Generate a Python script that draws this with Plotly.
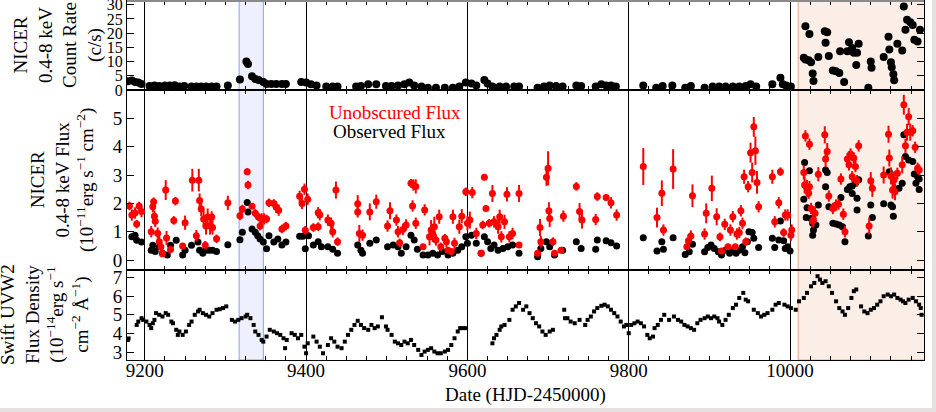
import plotly.graph_objects as go

# ---------------- DATA ----------------
# NICER 0.4-8 keV count rate (c/s)
rate_dates = [9179, 9184, 9188, 9192, 9196, 9206, 9212, 9218, 9225, 9231, 9237, 9243, 9249, 9258, 9264,
              9270, 9276, 9283, 9289, 9303, 9318, 9326, 9328, 9333, 9337, 9341, 9347, 9351, 9357, 9363,
              9370, 9375, 9394, 9400, 9406, 9413, 9425, 9433, 9439, 9462, 9468, 9477, 9487, 9499, 9506,
              9514, 9522, 9528, 9534, 9543, 9551, 9561, 9572, 9582, 9590, 9598, 9605, 9611, 9621, 9625,
              9631, 9640, 9648, 9658, 9664, 9687, 9695, 9702, 9710, 9718, 9735, 9741, 9759, 9766, 9772,
              9778, 9784, 9818, 9834, 9842, 9854, 9870, 9877, 9894, 9904, 9912, 9920, 9929, 9937, 9945,
              9951, 9958, 9978, 9988, 9991, 9995, 10001,
              10019, 10024, 10017, 10019, 10023, 10026, 10028, 10029, 10035, 10044, 10046, 10043, 10048,
              10053, 10057, 10061, 10067, 10062, 10071, 10073, 10077, 10079, 10083, 10085, 10082, 10097,
              10100, 10101, 10116, 10122, 10123, 10125, 10126, 10128, 10129, 10133, 10139, 10141, 10143,
              10145, 10149, 10152, 10154, 10158, 10161]
rate_vals = [3.1, 3.3, 2.8, 2.6, 2.1, 1.4, 1.6, 1.4, 1.6, 1.6, 1.7, 1.2, 1.4, 1.2, 1.2,
             1.2, 1.2, 1.2, 1.2, 1.6, 3.7, 10.0, 9.1, 4.8, 3.9, 3.5, 2.8, 2.1, 2.1, 2.1,
             2.1, 2.1, 2.8, 2.6, 2.0, 1.6, 1.2, 1.2, 1.2, 1.2, 1.4, 2.0, 2.0, 1.4, 1.4,
             1.6, 2.0, 2.6, 1.6, 1.2, 0.8, 0.8, 0.8, 0.8, 1.2, 2.6, 2.3, 1.6, 3.5, 2.3,
             1.2, 1.2, 1.2, 1.2, 1.2, 0.8, 1.2, 1.6, 1.4, 1.2, 1.6, 1.4, 1.2, 2.0, 1.6,
             1.6, 1.2, 1.6, 0.8, 1.4, 1.6, 0.8, 1.4, 0.8, 1.2, 1.2, 1.2, 1.2, 1.2, 1.4,
             2.0, 1.2, 2.0, 4.3, 2.0, 1.6, 1.2,
             22.4, 19.7, 11.3, 10.7, 10.5, 9.8, 5.8, 3.2, 11.6, 16.6, 20.3, 20.7, 12.0,
             6.9, 6.6, 6.0, 2.8, 13.6, 13.6, 16.8, 14.8, 13.1, 13.1, 16.3, 8.8, 0.8,
             10.0, 7.8, 11.6, 18.7, 14.2, 9.8, 8.0, 5.5, 3.4, 16.3, 13.9, 29.4, 21.2,
             24.7, 23.8, 22.9, 17.7, 17.1, 21.2]

# NICER 0.4-8 keV observed flux (1e-11 erg/s/cm2)
obs_dates = [9184, 9188, 9190, 9196, 9208, 9210, 9213, 9218, 9222, 9228, 9232, 9239, 9247, 9250, 9258,
             9266, 9268, 9272, 9276, 9280, 9284, 9289, 9303, 9318, 9321, 9327, 9328, 9333, 9337, 9340,
             9343, 9347, 9351, 9354, 9360, 9365, 9370, 9375, 9392, 9396, 9399, 9403, 9409, 9415, 9419,
             9427, 9433, 9439, 9464, 9468, 9470, 9479, 9487, 9501, 9508, 9514, 9518, 9524, 9530, 9534,
             9538, 9545, 9551, 9557, 9563, 9569, 9576, 9582, 9588, 9593, 9598, 9600, 9605, 9611, 9617,
             9621, 9625, 9629, 9633, 9638, 9644, 9650, 9656, 9664, 9687, 9691, 9698, 9702, 9708, 9718,
             9735, 9741, 9759, 9761, 9772, 9778, 9785, 9818, 9835, 9841, 9843, 9855, 9870, 9875, 9879,
             9894, 9898, 9902, 9906, 9911, 9915, 9920, 9925, 9929, 9933, 9937, 9941, 9944, 9947, 9949,
             9953, 9955, 9961, 9978, 9981, 9986, 9988, 9992, 9994, 9997, 10000,
             10018, 10024, 10017, 10021, 10020, 10026, 10028, 10029, 10032, 10035, 10028, 10044, 10046,
             10044, 10048, 10053, 10057, 10061, 10065, 10068, 10063, 10071, 10074, 10077, 10081, 10085,
             10077, 10083, 10083, 10097, 10100, 10102, 10116, 10123, 10125, 10127, 10128, 10131, 10135,
             10139, 10141, 10143, 10147, 10152, 10154, 10156, 10158, 10160, 10160]
obs_flux = [0.82, 0.88, 0.7, 0.64, 0.35, 0.52, 0.3, 0.47, 0.24, 0.18, 0.52, 0.7, 0.18, 0.35, 0.52,
            0.64, 0.35, 0.24, 0.35, 0.35, 0.35, 0.3, 0.54, 0.72, 0.98, 2.03, 1.7, 1.1, 0.98, 0.86,
            0.74, 0.64, 0.4, 0.86, 0.64, 0.74, 0.53, 0.64, 0.84, 0.84, 0.4, 0.86, 0.53, 0.65, 0.47,
            0.47, 0.38, 0.24, 0.53, 0.35, 0.24, 0.59, 0.71, 0.47, 0.53, 0.47, 0.24, 0.47, 0.88, 0.71,
            0.38, 0.18, 0.18, 0.24, 0.18, 0.3, 0.18, 0.24, 0.35, 0.47, 0.82, 0.59, 0.88, 0.59, 0.24,
            0.82, 0.65, 0.41, 0.53, 0.35, 0.41, 0.47, 0.53, 0.24, 0.12, 0.41, 0.65, 0.47, 0.18, 0.35,
            0.65, 0.41, 0.38, 0.71, 0.68, 0.61, 0.5, 0.79, 0.32, 0.65, 0.38, 0.79, 0.2, 0.29, 0.56,
            0.29, 0.44, 0.53, 0.41, 0.29, 0.18, 0.35, 0.24, 0.35, 0.24, 0.35, 0.47, 0.26, 0.65, 1.0,
            0.97, 0.77, 0.44, 0.77, 0.44, 0.71, 1.38, 0.68, 0.41, 0.47, 0.32,
            3.44, 3.15, 2.15, 1.85, 1.5, 1.47, 1.3, 1.06, 1.24, 1.94, 0.88, 3.18, 3.09,
            2.59, 1.88, 1.3, 1.27, 1.24, 1.18, 0.65, 2.21, 2.49, 2.59, 2.61, 2.71, 2.83,
            2.35, 2.18, 1.77, 0.85, 1.94, 1.5, 1.99, 3.12, 1.94, 1.88, 1.55, 2.51, 2.53,
            2.71, 4.42, 3.65, 3.53, 3.48, 3.04, 2.71, 2.94, 2.49, 2.86]

# NICER 0.4-8 keV unobscured flux (1e-11 erg/s/cm2) and its error
unobs_dates = [9181, 9184, 9188, 9190, 9193, 9196, 9208, 9210, 9211, 9212, 9213, 9216, 9218, 9220, 9222,
               9226, 9227, 9232, 9236, 9238, 9247, 9250, 9259, 9264, 9267, 9268, 9270, 9273, 9275, 9276,
               9278, 9281, 9283, 9284, 9289, 9303, 9318, 9321, 9327, 9328, 9333, 9337, 9341, 9343, 9345,
               9348, 9351, 9354, 9360, 9363, 9366, 9370, 9375, 9392, 9395, 9398, 9402, 9399, 9409, 9415,
               9415, 9417, 9427, 9431, 9433, 9437, 9439, 9464, 9464, 9466, 9470, 9479, 9487, 9501, 9504,
               9512, 9514, 9516, 9520, 9524, 9530, 9533, 9536, 9532, 9536, 9547, 9545, 9553, 9555, 9557,
               9559, 9561, 9565, 9567, 9572, 9574, 9576, 9580, 9582, 9584, 9590, 9593, 9598, 9600, 9603,
               9606, 9611, 9617, 9619, 9621, 9623, 9627, 9631, 9633, 9638, 9640, 9642, 9646, 9649, 9652,
               9656, 9664, 9664, 9687, 9690, 9691, 9698, 9700, 9701, 9702, 9706, 9708, 9716, 9719, 9735,
               9739, 9742, 9759, 9761, 9772, 9778, 9785, 9818, 9835, 9841, 9843, 9855, 9872, 9874, 9877,
               9879, 9894, 9896, 9903, 9909, 9913, 9915, 9919, 9923, 9926, 9929, 9932, 9934, 9937, 9939,
               9941, 9943, 9945, 9948, 9951, 9953, 9955, 9957, 9959, 9961, 9978, 9981, 9986, 9988, 9992,
               9994, 9997, 10001, 10002,
               10017, 10019, 10018, 10021, 10024, 10024, 10023, 10026, 10029, 10031, 10028, 10035, 10043,
               10044, 10046, 10048, 10053, 10057, 10060, 10063, 10066, 10068, 10071, 10073, 10075, 10077,
               10079, 10081, 10083, 10085, 10098, 10100, 10102, 10116, 10122, 10123, 10125, 10127, 10129,
               10130, 10133, 10139, 10141, 10143, 10145, 10147, 10149, 10152, 10155, 10158, 10160]
unobs_flux = [1.91, 1.59, 1.66, 1.27, 1.91, 1.71, 1.0, 1.88, 2.06, 1.55, 1.37, 0.95, 0.65, 0.47, 0.22,
              2.47, 0.78, 0.37, 1.4, 2.08, 0.5, 1.32, 2.82, 0.86, 2.82, 2.1, 1.8, 1.45, 0.52, 1.2,
              1.52, 1.2, 1.52, 1.15, 0.75, 2.02, 1.56, 1.8, 3.12, 2.65, 1.9, 1.65, 1.52, 1.2, 1.45,
              1.45, 1.45, 2.02, 2.0, 1.86, 1.76, 1.1, 1.2, 2.25, 2.0, 2.5, 2.15, 1.05, 1.15, 1.18,
              1.67, 1.6, 1.41, 1.3, 1.0, 2.47, 0.65, 1.99, 1.7, 0.94, 0.88, 1.7, 2.06, 1.2, 1.74,
              1.41, 1.0, 0.61, 1.08, 1.24, 2.71, 2.65, 2.6, 1.91, 1.3, 1.77, 0.47, 0.82, 1.06, 0.94,
              1.18, 0.71, 1.53, 0.47, 0.77, 0.65, 0.35, 0.3, 1.53, 0.59, 1.18, 1.55, 2.41, 1.3, 1.41,
              2.38, 0.94, 0.24, 1.24, 2.92, 1.82, 1.3, 2.35, 1.35, 1.18, 1.53, 0.82, 1.35, 2.32, 0.82,
              0.94, 0.53, 2.35, 0.24, 1.15, 0.65, 2.92, 3.24, 1.74, 1.47, 0.65, 0.24, 0.35, 1.55, 2.6,
              1.71, 1.41, 1.43, 2.24, 2.21, 2.02, 1.59, 3.3, 1.5, 2.36, 1.06, 3.21, 0.47, 0.68, 0.85,
              2.27, 0.92, 1.65, 2.53, 1.53, 0.82, 0.32, 1.26, 0.47, 1.06, 1.53, 0.47, 0.92, 0.97, 1.74,
              1.3, 2.94, 0.65, 2.59, 3.79, 3.09, 4.7, 3.86, 2.74, 1.88, 2.94, 1.35, 2.02, 3.12, 0.97,
              1.59, 1.59, 0.88, 1.06,
              3.09, 4.38, 2.65, 2.53, 4.09, 2.59, 2.36, 1.82, 1.41, 1.65, 1.38, 3.03, 4.42,
              3.57, 3.83, 2.26, 1.82, 1.94, 1.97, 2.86, 1.62, 1.0, 3.57, 3.36, 3.74, 2.94,
              3.6, 3.3, 2.8, 4.03, 1.2, 2.8, 2.53, 3.0, 4.44, 3.6, 2.97, 2.47, 2.83,
              2.41, 3.06, 3.36, 5.48, 4.03, 4.51, 5.06, 4.51, 4.56, 3.98, 3.24, 3.18]
unobs_err = [0.15, 0.2, 0.2, 0.15, 0.15, 0.2, 0.2, 0.2, 0.15, 0.2, 0.2, 0.2, 0.2, 0.15, 0.1,
             0.35, 0.25, 0.1, 0.15, 0.15, 0.1, 0.25, 0.4, 0.2, 0.4, 0.25, 0.25, 0.3, 0.15, 0.3,
             0.3, 0.3, 0.2, 0.25, 0.15, 0.25, 0.15, 0.15, 0.12, 0.15, 0.1, 0.15, 0.15, 0.15, 0.2,
             0.2, 0.15, 0.15, 0.15, 0.2, 0.2, 0.15, 0.15, 0.2, 0.2, 0.2, 0.2, 0.15, 0.15, 0.15,
             0.2, 0.2, 0.2, 0.2, 0.2, 0.3, 0.15, 0.3, 0.2, 0.3, 0.2, 0.3, 0.25, 0.2, 0.3,
             0.2, 0.2, 0.15, 0.2, 0.2, 0.15, 0.2, 0.25, 0.2, 0.2, 0.2, 0.1, 0.3, 0.35, 0.3,
             0.35, 0.2, 0.25, 0.15, 0.15, 0.2, 0.1, 0.1, 0.25, 0.2, 0.25, 0.25, 0.15, 0.25, 0.3,
             0.2, 0.2, 0.1, 0.15, 0.1, 0.1, 0.15, 0.3, 0.2, 0.25, 0.25, 0.2, 0.25, 0.25, 0.2,
             0.2, 0.1, 0.3, 0.1, 0.3, 0.2, 0.3, 0.6, 0.3, 0.3, 0.15, 0.1, 0.1, 0.2, 0.15,
             0.3, 0.3, 0.2, 0.15, 0.1, 0.2, 0.2, 0.65, 0.35, 0.45, 0.2, 0.7, 0.1, 0.2, 0.2,
             0.4, 0.2, 0.35, 0.45, 0.3, 0.15, 0.1, 0.2, 0.1, 0.2, 0.2, 0.1, 0.2, 0.2, 0.2,
             0.2, 0.25, 0.15, 0.2, 0.35, 0.35, 0.35, 0.5, 0.4, 0.2, 0.25, 0.2, 0.2, 0.15, 0.15,
             0.2, 0.2, 0.2, 0.2,
             0.25, 0.2, 0.3, 0.3, 0.2, 0.2, 0.2, 0.2, 0.25, 0.25, 0.2, 0.25, 0.3,
             0.3, 0.3, 0.2, 0.2, 0.2, 0.2, 0.2, 0.2, 0.2, 0.2, 0.2, 0.2, 0.2,
             0.2, 0.2, 0.2, 0.2, 0.3, 0.3, 0.3, 0.3, 0.3, 0.3, 0.3, 0.3, 0.3,
             0.3, 0.2, 0.3, 0.35, 0.25, 0.3, 0.3, 0.3, 0.2, 0.2, 0.2, 0.2]

# Swift UVW2 flux density (1e-14 erg/s/cm2/A)
uv_dates = [9179, 9180, 9190, 9192, 9196, 9198, 9202, 9206, 9208, 9210, 9212, 9214, 9218, 9222, 9226,
            9229, 9233, 9235, 9239, 9241, 9243, 9247, 9251, 9255, 9258, 9262, 9266, 9268, 9272, 9276,
            9280, 9284, 9289, 9293, 9297, 9301, 9308, 9312, 9316, 9320, 9325, 9327, 9331, 9335, 9337,
            9341, 9345, 9347, 9351, 9355, 9360, 9364, 9368, 9372, 9374, 9376, 9382, 9386, 9390, 9394,
            9398, 9400, 9402, 9409, 9413, 9417, 9421, 9427, 9431, 9435, 9439, 9444, 9448, 9452, 9456,
            9460, 9464, 9468, 9472, 9477, 9481, 9485, 9489, 9494, 9499, 9501, 9506, 9510, 9514, 9518,
            9522, 9526, 9530, 9534, 9539, 9543, 9547, 9551, 9555, 9559, 9563, 9567, 9572, 9576, 9580,
            9584, 9588, 9591, 9594, 9598, 9631, 9633, 9636, 9640, 9642, 9646, 9652, 9656, 9660, 9664,
            9669, 9673, 9677, 9681, 9685, 9689, 9693, 9697, 9702, 9706, 9720, 9721, 9724, 9728, 9733,
            9739, 9746, 9749, 9753, 9757, 9761, 9766, 9770, 9774, 9778, 9782, 9786, 9790, 9794, 9797,
            9800, 9803, 9807, 9811, 9815, 9819, 9823, 9826, 9830, 9832, 9836, 9840, 9844, 9850, 9856,
            9861, 9865, 9869, 9873, 9877, 9881, 9885, 9889, 9894, 9898, 9902, 9906, 9910, 9912, 9916,
            9920, 9924, 9929, 9933, 9937, 9942, 9945, 9948, 9955, 9960, 9964, 9968, 9972, 9978, 9982,
            9986, 9993, 9997, 10001, 10007, 10011, 10017, 10021, 10026, 10030, 10034, 10037, 10040, 10044,
            10048, 10052, 10057, 10061, 10065, 10068, 10072, 10076, 10079, 10082, 10088, 10092, 10096,
            10100, 10104, 10108, 10112, 10116, 10121, 10125, 10129, 10133, 10137, 10140, 10143, 10147,
            10152, 10156, 10160, 10162, 10163]
uv_flux = [3.66, 3.74, 4.46, 4.64, 4.82, 4.73, 4.64, 4.46, 4.29, 4.55, 4.73, 5.09, 5.0, 4.91, 5.09,
           5.0, 4.64, 4.55, 4.2, 3.93, 4.11, 3.93, 4.11, 4.46, 4.64, 5.0, 5.18, 5.27, 5.09, 5.0,
           4.91, 5.09, 5.27, 5.3, 5.36, 5.45, 4.73, 4.64, 4.73, 4.82, 4.91, 5.0, 4.82, 4.46, 4.11,
           3.93, 3.66, 3.57, 3.84, 4.2, 4.11, 4.02, 3.93, 3.75, 3.22, 3.66, 4.02, 3.93, 3.75, 3.93,
           3.3, 2.95, 3.48, 3.84, 3.57, 3.3, 2.95, 3.39, 3.75, 3.57, 3.3, 3.22, 3.57, 3.93, 4.2,
           4.46, 4.68, 4.46, 4.29, 4.2, 4.46, 4.29, 4.38, 4.87, 4.38, 4.2, 3.93, 3.57, 3.48, 3.39,
           3.57, 3.48, 3.66, 3.39, 3.13, 2.86, 3.04, 3.13, 3.22, 3.04, 2.95, 2.95, 3.04, 3.13, 3.39,
           3.75, 4.11, 4.29, 4.29, 4.29, 3.48, 3.75, 3.93, 4.2, 4.38, 4.46, 4.73, 5.27, 5.45, 5.63,
           5.27, 5.45, 5.09, 4.82, 4.55, 4.38, 4.11, 3.93, 4.11, 4.2, 5.27, 4.82, 4.82, 4.64, 4.55,
           4.73, 4.46, 4.73, 4.91, 5.18, 5.36, 5.48, 5.54, 5.45, 5.27, 5.09, 4.91, 4.64, 4.38, 4.46,
           4.02, 4.46, 4.55, 4.64, 4.55, 4.38, 3.93, 3.75, 3.84, 4.29, 4.46, 4.73, 5.0, 4.73, 4.91,
           4.73, 4.64, 4.46, 4.38, 4.29, 4.2, 4.55, 4.73, 4.82, 4.91, 4.82, 4.91, 4.82, 4.64, 4.46,
           4.73, 5.0, 5.36, 5.54, 5.9, 6.17, 5.81, 5.72, 5.27, 5.09, 4.91, 5.0, 5.09, 5.27, 5.54,
           5.63, 5.54, 5.45, 5.36, 5.27, 5.72, 5.9, 6.17, 6.52, 6.7, 7.06, 6.88, 6.7, 6.79,
           6.52, 6.17, 5.72, 5.36, 5.18, 5.0, 5.36, 5.9, 6.26, 6.35, 5.45, 5.18, 5.09,
           5.27, 5.36, 5.54, 5.72, 5.99, 6.08, 5.99, 6.08, 5.9, 5.81, 5.72, 5.63, 5.81,
           5.9, 5.72, 5.54, 5.36, 5.0]

x_ticks = [9200, 9400, 9600, 9800, 10000]
x_tick_labels = ["9200", "9400", "9600", "9800", "10000"]
x_range = [9178, 10166]
blue_band = [9317, 9347]
orange_band = [10010, 10170]

# ---------------- FIGURE ----------------
FONT = "Liberation Serif"
fig = go.Figure()

fig.add_trace(go.Scatter(x=rate_dates, y=rate_vals, mode="markers", xaxis="x3", yaxis="y3",
                         marker=dict(color="black", size=8), showlegend=False))
fig.add_trace(go.Scatter(x=obs_dates, y=obs_flux, mode="markers", xaxis="x2", yaxis="y2",
                         marker=dict(color="black", size=7), showlegend=False))
fig.add_trace(go.Scatter(x=unobs_dates, y=unobs_flux, mode="markers", xaxis="x2", yaxis="y2",
                         marker=dict(color="#ff0000", size=7),
                         error_y=dict(type="data", array=unobs_err, color="#ff0000", thickness=2, width=0),
                         showlegend=False))
fig.add_trace(go.Scatter(x=uv_dates, y=uv_flux, mode="markers", xaxis="x", yaxis="y",
                         marker=dict(color="black", size=4, symbol="square"), showlegend=False))

H = 359.0
def yp(py):
    return (360 - py) / H

dom_bot = [0, yp(270)]
dom_mid = [yp(270), yp(90)]
dom_top = [yp(90), 1]

xcommon = dict(range=x_range, tickvals=x_ticks, ticktext=x_tick_labels, showgrid=True,
               gridcolor="black", gridwidth=1, automargin=False,
               ticks="inside", ticklen=7, tickcolor="black", mirror="allticks", showline=True,
               linecolor="black", linewidth=1, zeroline=False,
               minor=dict(dtick=25, tick0=9200, ticks="inside", ticklen=4, tickcolor="black", showgrid=False),
               tickfont=dict(family=FONT, size=19, color="black"))
ycommon = dict(ticks="inside", ticklen=7, tickcolor="black", mirror="allticks", showline=True,
               linecolor="black", linewidth=1, zeroline=False, showgrid=False, automargin=False,
               ticklabeloverflow="allow",
               tickfont=dict(family=FONT, size=19, color="black"))

fig.update_layout(
    width=936, height=412,
    margin=dict(l=127, r=12, t=1, b=52, autoexpand=False),
    paper_bgcolor="white", plot_bgcolor="rgba(0,0,0,0)",
    font=dict(family=FONT, color="black"),
    xaxis=dict(**xcommon, anchor="y", domain=[0, 1], ticklabelstandoff=-7),
    xaxis2=dict(**xcommon, anchor="y2", matches="x", showticklabels=False),
    xaxis3=dict(**xcommon, anchor="y3", matches="x", showticklabels=False),
    yaxis=dict(**ycommon, domain=dom_bot, range=[2.59, 7.39], tickvals=[3, 4, 5, 6, 7]),
    yaxis2=dict(**ycommon, domain=dom_mid, range=[-0.35, 6.0], tickvals=[0, 1, 2, 3, 4, 5]),
    yaxis3=dict(**{**ycommon, "tickfont": dict(family=FONT, size=16, color="black")},
                domain=dom_top, range=[0, 31.3], tickvals=[0, 5, 10, 15, 20, 25, 30]),
)

shapes = []
shapes.append(dict(type="rect", xref="x", yref="paper", x0=blue_band[0], x1=blue_band[1], y0=0, y1=1,
                   fillcolor="#eef0fd", line=dict(color="#8c9ff0", width=1), layer="below"))
shapes.append(dict(type="rect", xref="x", yref="paper", x0=orange_band[0], x1=orange_band[1], y0=0, y1=1,
                   fillcolor="#fbeee7", line=dict(color="#eda585", width=1), layer="below"))
# grey top frame line
shapes.append(dict(type="line", xref="paper", yref="paper", x0=0, x1=1, y0=1, y1=1,
                   line=dict(color="#8a8a8a", width=2), layer="above"))
# light grey strips at right and bottom edge of the image
shapes.append(dict(type="rect", xref="paper", yref="paper", x0=(932 - 127) / 797.0, x1=1.03, y0=-0.2, y1=1.01,
                   fillcolor="#e6e0e0", line=dict(width=0), layer="above"))
shapes.append(dict(type="rect", xref="paper", yref="paper", x0=-0.2, x1=1.03, y0=yp(408), y1=-0.2,
                   fillcolor="#e6e0e0", line=dict(width=0), layer="above"))
fig.update_layout(shapes=shapes)

tf = dict(family=FONT, size=19, color="black")
ann = []
ann.append(dict(text="NICER<br>0.4-8 keV<br>Count Rate<br>(c/s)", xref="paper", yref="paper",
                x=0, y=yp(45), xshift=-127 + 58, textangle=-90, showarrow=False, font=tf,
                xanchor="center", yanchor="middle"))
ann.append(dict(text="NICER<br>0.4-8 keV Flux<br>(10<sup>\u221211</sup>erg s<sup>\u22121</sup> cm<sup>\u22122</sup>)",
                xref="paper", yref="paper", x=0, y=yp(180), xshift=-127 + 62, textangle=-90,
                showarrow=False, font=tf, xanchor="center", yanchor="middle"))
ann.append(dict(text="Swift UVW2<br>Flux Density<br>(10<sup>\u221214</sup>erg s<sup>\u22121</sup><br>cm<sup>\u22122</sup> \u00c5<sup>\u22121</sup>)",
                xref="paper", yref="paper", x=0, y=yp(315), xshift=-127 + 45, textangle=-90,
                showarrow=False, font=tf, xanchor="center", yanchor="middle"))
ann.append(dict(text="Date (HJD-2450000)", xref="paper", yref="paper", x=(525 - 127) / 797.0, y=yp(395),
                showarrow=False, font=tf, xanchor="center", yanchor="middle"))
# legend-like labels placed in the flux panel's data coordinates
ann.append(dict(text="Unobscured Flux", xref="x2", yref="y2", x=9510, y=5.22,
                showarrow=False, font=dict(family=FONT, size=19, color="#ff0000")))
ann.append(dict(text="Observed Flux", xref="x2", yref="y2", x=9504, y=4.55,
                showarrow=False, font=dict(family=FONT, size=19, color="black")))
fig.update_layout(annotations=ann)

fig.write_html("out.html")
